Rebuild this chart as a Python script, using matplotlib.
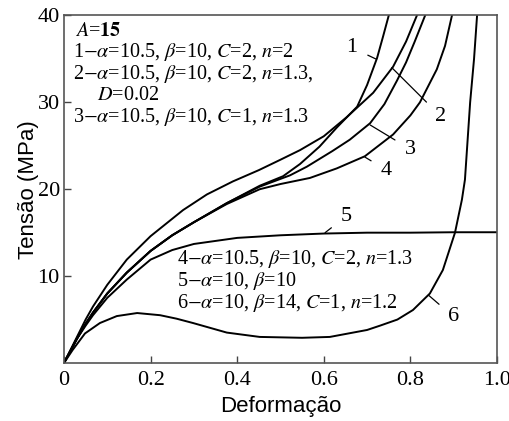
import matplotlib
matplotlib.use("Agg")
import matplotlib.pyplot as plt

# values (strain, stress in MPa)
x1 = [0, 0.015, 0.03, 0.05, 0.067, 0.1, 0.145, 0.2, 0.25, 0.3, 0.376, 0.452, 0.506, 0.545, 0.59, 0.63, 0.677, 0.70, 0.723, 0.737, 0.75]
y1 = [0, 1.4, 2.8, 4.5, 5.8, 8.0, 10.4, 12.9, 14.7, 16.2, 18.4, 20.4, 21.5, 22.9, 24.9, 27.1, 29.5, 32.0, 35.1, 37.6, 40]

x2 = [0, 0.015, 0.03, 0.05, 0.067, 0.1, 0.145, 0.2, 0.275, 0.33, 0.39, 0.45, 0.5, 0.545, 0.6, 0.653, 0.677, 0.714, 0.76, 0.79, 0.815]
y2 = [0, 1.5, 3.0, 5.0, 6.5, 9.0, 11.9, 14.6, 17.6, 19.4, 20.9, 22.2, 23.4, 24.5, 26.1, 28.3, 29.4, 31.1, 34.1, 37.0, 40]

x3 = [0, 0.015, 0.03, 0.05, 0.067, 0.1, 0.145, 0.2, 0.25, 0.3, 0.376, 0.452, 0.522, 0.561, 0.62, 0.66, 0.707, 0.74, 0.769, 0.79, 0.81, 0.834]
y3 = [0, 1.4, 2.8, 4.5, 5.8, 8.0, 10.4, 12.9, 14.7, 16.2, 18.4, 20.3, 21.6, 22.6, 24.4, 25.7, 27.6, 29.8, 32.5, 34.6, 37.0, 40]

x4 = [0, 0.015, 0.03, 0.05, 0.067, 0.1, 0.145, 0.2, 0.25, 0.3, 0.376, 0.452, 0.5, 0.568, 0.63, 0.695, 0.76, 0.80, 0.822, 0.861, 0.88, 0.896]
y4 = [0, 1.4, 2.8, 4.5, 5.8, 8.0, 10.4, 12.9, 14.7, 16.2, 18.3, 20.0, 20.6, 21.3, 22.4, 23.8, 26.3, 28.5, 30.0, 33.8, 36.5, 40]

x5 = [0, 0.015, 0.03, 0.05, 0.067, 0.1, 0.145, 0.2, 0.25, 0.3, 0.4, 0.5, 0.6, 0.7, 0.8, 0.9, 1.0]
y5 = [0, 1.4, 2.8, 4.3, 5.5, 7.5, 9.6, 11.9, 13.0, 13.7, 14.4, 14.7, 14.9, 15.0, 15.0, 15.05, 15.05]

x6 = [0, 0.02, 0.0485, 0.083, 0.122, 0.169, 0.222, 0.26, 0.298, 0.376, 0.452, 0.55, 0.614, 0.7, 0.73, 0.77, 0.806, 0.845, 0.875, 0.903, 0.919, 0.926, 0.938, 0.947, 0.954]
y6 = [0, 1.5, 3.4, 4.6, 5.4, 5.75, 5.5, 5.1, 4.6, 3.5, 3.0, 2.9, 3.0, 3.8, 4.3, 5.0, 6.1, 8.0, 10.7, 15.0, 18.8, 21.1, 30.0, 35.0, 40]

curves = [(x1, y1), (x2, y2), (x3, y3), (x4, y4), (x5, y5), (x6, y6)]

xticks = [0, 0.2, 0.4, 0.6, 0.8, 1.0]
xticklabels = ["0", "0.2", "0.4", "0.6", "0.8", "1.0"]
yticks = [10, 20, 30, 40]

plt.rcParams["mathtext.fontset"] = "stix"
serif = "Liberation Serif"

fig = plt.figure(figsize=(5.09, 4.21), dpi=100)
ax = fig.add_axes([0.1257, 0.1378, 0.8507, 0.8254])

for xs, ys in curves:
    ax.plot(xs, ys, color="black", lw=1.4, solid_joinstyle="round")

ax.set_xlim(0, 1.0)
ax.set_ylim(0, 40)
ax.set_xticks(xticks)
ax.set_xticklabels(xticklabels, fontfamily=serif)
ax.set_yticks(yticks)
ax.set_yticklabels([str(v) for v in yticks], fontfamily=serif)
ax.tick_params(direction="in", labelsize=16, length=5, color="#444444", width=1)
ax.tick_params(axis="x", pad=6)
ax.tick_params(axis="y", pad=3)
for s in ax.spines.values():
    s.set_color("#555555")
    s.set_linewidth(1.2)

ax.set_xlabel("Deformação", fontfamily="Liberation Sans", fontsize=16, labelpad=4)
ax.set_ylabel("Tensão (MPa)", fontfamily="Liberation Sans", fontsize=16, labelpad=-1)

# parameter notes
fs = 14.5
notes_top = [
    (0.025, 0.955, r"$A$=$\mathbf{15}$"),
    (0.02, 0.895, r"1$-\alpha$=10.5, $\beta$=10, $C$=2, $n$=2"),
    (0.02, 0.833, r"2$-\alpha$=10.5, $\beta$=10, $C$=2, $n$=1.3,"),
    (0.077, 0.771, r"$D$=0.02"),
    (0.02, 0.709, r"3$-\alpha$=10.5, $\beta$=10, $C$=1, $n$=1.3"),
]
notes_bot = [
    (0.262, 0.298, r"4$-\alpha$=10.5, $\beta$=10, $C$=2, $n$=1.3"),
    (0.262, 0.235, r"5$-\alpha$=10, $\beta$=10"),
    (0.262, 0.172, r"6$-\alpha$=10, $\beta$=14, $C$=1, $n$=1.2"),
]
for tx, ty, t in notes_top + notes_bot:
    ax.text(tx, ty, t, transform=ax.transAxes, fontsize=fs, fontfamily=serif,
            va="center", ha="left")

# curve labels with leader lines
labels = [
    ("1", (0.72, 35.0), (0.665, 36.3)),
    ("2", (0.757, 34.0), (0.87, 28.4)),
    ("3", (0.707, 27.4), (0.80, 24.6)),
    ("4", (0.695, 23.7), (0.745, 22.2)),
    ("5", (0.603, 15.0), (0.652, 16.9)),
    ("6", (0.842, 7.8), (0.90, 5.3)),
]
for lab, xy, xyt in labels:
    ax.annotate(lab, xy=xy, xytext=xyt, fontsize=16, fontfamily=serif,
                ha="center", va="center",
                arrowprops=dict(arrowstyle="-", color="black", lw=0.9,
                                shrinkA=6, shrinkB=0))

fig.savefig("out.png", dpi=100)
